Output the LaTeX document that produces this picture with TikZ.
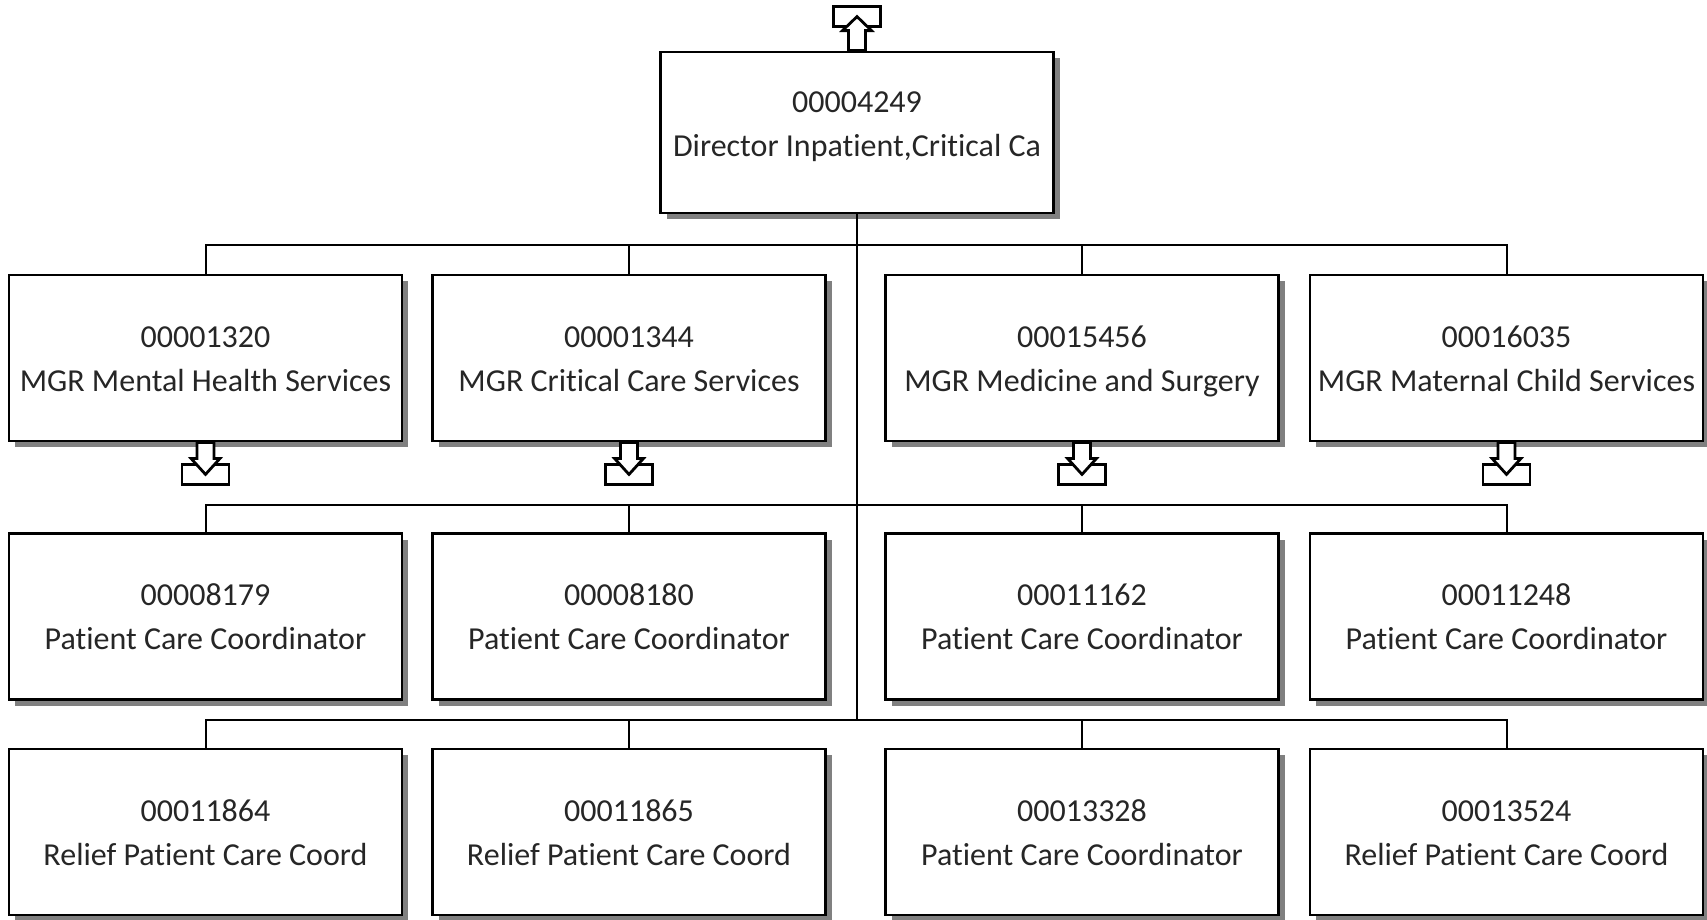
\documentclass[tikz,border=0pt]{standalone}
\usepackage{fontspec}
\setmainfont[Ligatures=NoCommon]{Carlito}
\usetikzlibrary{shadows}
\newcommand\rowtext[2]{\rule[-8pt]{0pt}{38pt}#1\\\rule[-8pt]{0pt}{38pt}#2}
\newcommand\dirtext[2]{\rule[-8pt]{0pt}{38pt}#1\\\rule[-26pt]{0pt}{56pt}#2}
\begin{document}
\begin{tikzpicture}[x=1pt,y=-1pt,
  box/.style={draw, line width=2.8pt, fill=white, minimum width=393pt, minimum height=166pt,
    align=center, inner sep=0pt, text=black!85, font=\fontsize{32}{44}\selectfont,
    general shadow={fill=black!50, shadow xshift=6pt, shadow yshift=-6pt}},
  conn/.style={line width=2pt},
  icon/.style={line width=2.8pt, fill=white, line join=miter},
  downicon/.pic={
    \draw[icon] (-23.5,22) rectangle (23.5,42);
    \draw[icon] (-8.5,0) -- (8.5,0) -- (8.5,16) -- (14.5,16) -- (0,32) -- (-14.5,16) -- (-8.5,16) -- cycle;
  },
  upicon/.pic={
    \draw[icon] (-23.5,-44) rectangle (23.5,-24);
    \draw[icon] (-8.5,0) -- (-8.5,-20) -- (-14.5,-20) -- (0,-34) -- (14.5,-20) -- (8.5,-20) -- (8.5,0) -- cycle;
  }]
\useasboundingbox (0,0) rectangle (1707,919);

% director
\node[box, minimum height=161pt] (d) at (857,132.5) {\dirtext{00004249}{Director Inpatient,Critical Ca}};

% row 1
\node[box] (m1) at (205.5,358) {\rowtext{00001320}{MGR Mental Health Services}};
\node[box] (m2) at (629,358) {\rowtext{00001344}{MGR Critical Care Services}};
\node[box] (m3) at (1082,358) {\rowtext{00015456}{MGR Medicine and Surgery}};
\node[box] (m4) at (1506.5,358) {\rowtext{00016035}{MGR Maternal Child Services}};

% row 2
\node[box] (p1) at (205.5,616.5) {\rowtext{00008179}{Patient Care Coordinator}};
\node[box] (p2) at (629,616.5) {\rowtext{00008180}{Patient Care Coordinator}};
\node[box] (p3) at (1082,616.5) {\rowtext{00011162}{Patient Care Coordinator}};
\node[box] (p4) at (1506.5,616.5) {\rowtext{00011248}{Patient Care Coordinator}};

% row 3
\node[box] (r1) at (205.5,832) {\rowtext{00011864}{Relief Patient Care Coord}};
\node[box] (r2) at (629,832) {\rowtext{00011865}{Relief Patient Care Coord}};
\node[box] (r3) at (1082,832) {\rowtext{00013328}{Patient Care Coordinator}};
\node[box] (r4) at (1506.5,832) {\rowtext{00013524}{Relief Patient Care Coord}};

% bus coordinates
\coordinate (bus1) at (857,245);
\coordinate (bus2) at (857,505);
\coordinate (bus3) at (857,720);

% connectors
\draw[conn] (d.south) -- (bus3);
\draw[conn] (m1.north) -- (m1.north |- bus1) -- (m4.north |- bus1) -- (m4.north);
\draw[conn] (m2.north) -- (m2.north |- bus1);
\draw[conn] (m3.north) -- (m3.north |- bus1);
\draw[conn] (p1.north) -- (p1.north |- bus2) -- (p4.north |- bus2) -- (p4.north);
\draw[conn] (p2.north) -- (p2.north |- bus2);
\draw[conn] (p3.north) -- (p3.north |- bus2);
\draw[conn] (r1.north) -- (r1.north |- bus3) -- (r4.north |- bus3) -- (r4.north);
\draw[conn] (r2.north) -- (r2.north |- bus3);
\draw[conn] (r3.north) -- (r3.north |- bus3);

% icons
\pic at (d.north) {upicon};
\pic at (m1.south) {downicon};
\pic at (m2.south) {downicon};
\pic at (m3.south) {downicon};
\pic at (m4.south) {downicon};
\end{tikzpicture}
\end{document}
